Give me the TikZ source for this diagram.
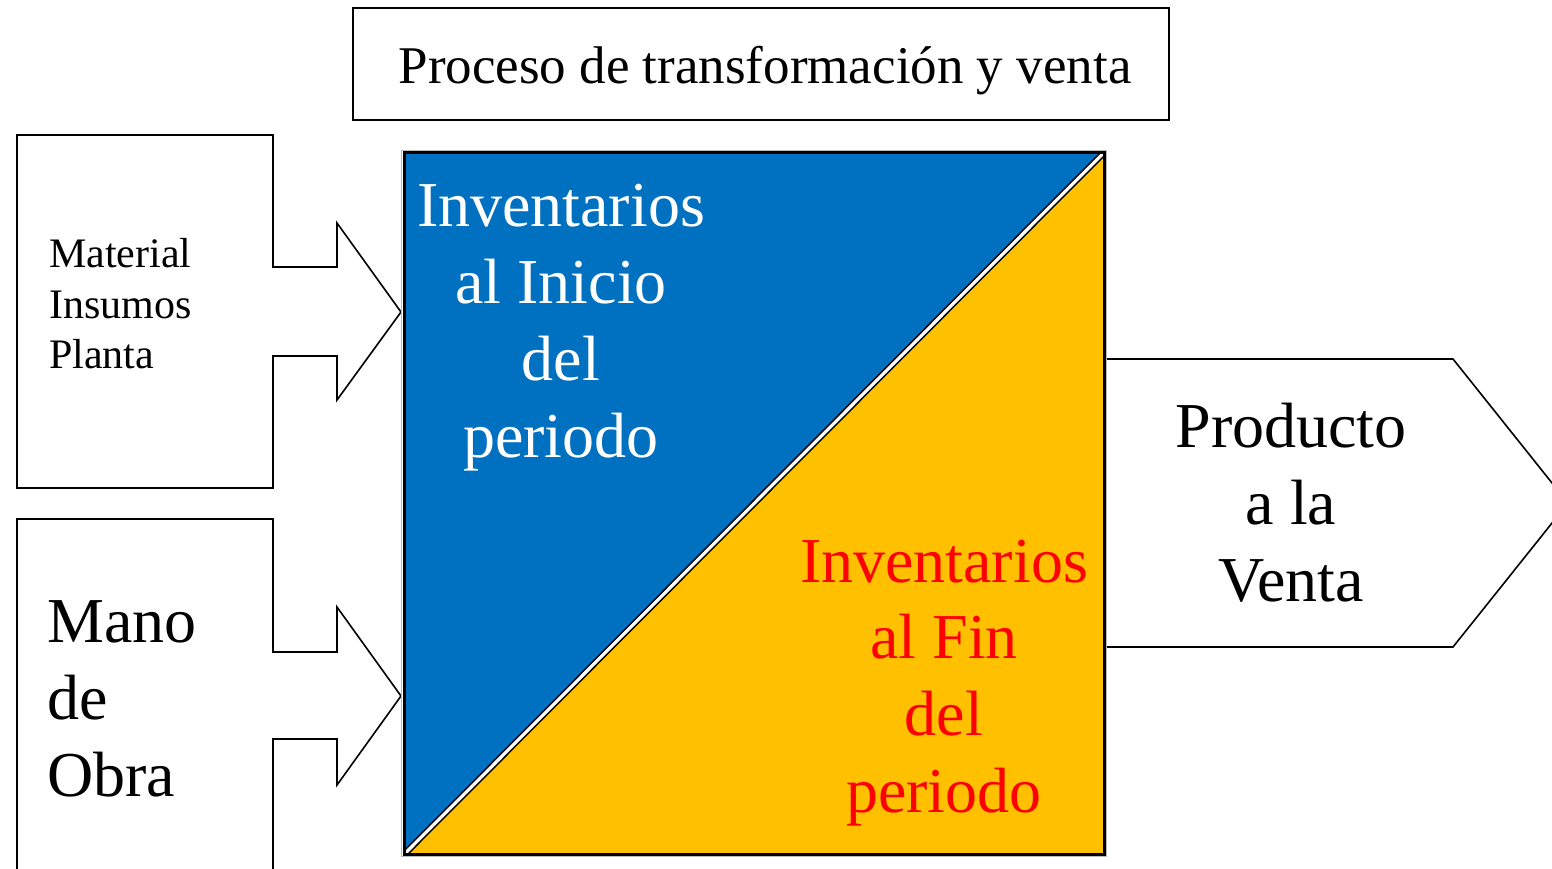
\documentclass[tikz,border=0pt]{standalone}
\usepackage{fontspec}
\setmainfont{Liberation Serif}
\definecolor{invblue}{HTML}{0070C0}
\definecolor{invorange}{HTML}{FFC000}
\definecolor{invred}{HTML}{FF0000}
\begin{document}
\begin{tikzpicture}[x=1pt,y=-1pt,
  outline/.style={draw=black, line width=1.6pt, fill=white, line join=miter},
  big/.style={inner sep=0pt, anchor=base, font=\fontsize{64}{77}\selectfont},
  bigleft/.style={big, anchor=base west},
  small/.style={inner sep=0pt, anchor=base west, font=\fontsize{42}{51}\selectfont},
  ttl/.style={inner sep=0pt, anchor=base, font=\fontsize{53}{64}\selectfont}]
\useasboundingbox (0,0) rectangle (1552,868);
\clip (0,0) rectangle (1552,868);

% title
\node[draw=black, line width=1.6pt, fill=white, inner sep=0pt, minimum width=816pt, minimum height=112pt] (titlebox) at (761,64) {};
\node[ttl] (titletext) at (765,83) {Proceso de transformación y venta};

% left input arrows
\draw[outline] (17,135) -- (273,135) -- (273,267) -- (337,267) -- (337,223) -- (401,312)
  -- (337,400) -- (337,356) -- (273,356) -- (273,488) -- (17,488) -- cycle;
\draw[outline] (17,900) -- (17,519) -- (273,519) -- (273,652) -- (337,652) -- (337,607) -- (401,696)
  -- (337,785) -- (337,739) -- (273,739) -- (273,900);

% right output arrow
\draw[outline] (1104,359) -- (1453,359) -- (1568,503) -- (1453,647) -- (1104,647);

% central square
\node[inner sep=0pt, outer sep=0pt, minimum width=700pt, minimum height=702pt] (sq) at (754,503.5) {};
\fill[invblue] (sq.north west) -- (sq.north east) -- (sq.south west) -- cycle;
\fill[invorange] (sq.north east) -- (sq.south east) -- (sq.south west) -- cycle;
\begin{scope}
  \clip (sq.north west) rectangle (sq.south east);
  \draw[black, line width=1.6pt, double=white, double distance=3.2pt] ([shift={(-2pt,-2pt)}]sq.south west) -- ([shift={(2pt,2pt)}]sq.north east);
\end{scope}
\draw[gray!55, line width=1pt] ([shift={(-2.5pt,-2pt)}]sq.south west) rectangle ([shift={(2pt,2.5pt)}]sq.north east);
\draw[black, line width=3pt] (sq.south west) rectangle (sq.north east);

% texts
\node[big, text=white] (b1) at (561,226) {Inventarios};
\node[big, text=white] (b2) at (561,303) {al Inicio};
\node[big, text=white] (b3) at (561,380) {del};
\node[big, text=white] (b4) at (561,457) {periodo};

\node[big, text=invred] (r1) at (944,582) {Inventarios};
\node[big, text=invred] (r2) at (944,658) {al Fin};
\node[big, text=invred] (r3) at (944,735) {del};
\node[big, text=invred] (r4) at (944,812) {periodo};

\node[big] (p1) at (1291,447) {Producto};
\node[big] (p2) at (1291,524) {a la};
\node[big] (p3) at (1291,601) {Venta};

\node[small] (m1) at (49,267) {Material};
\node[small] (m2) at (49,318) {Insumos};
\node[small] (m3) at (49,368) {Planta};

\node[bigleft] (o1) at (47,642) {Mano};
\node[bigleft] (o2) at (47,719) {de};
\node[bigleft] (o3) at (47,796) {Obra};
\end{tikzpicture}
\end{document}
